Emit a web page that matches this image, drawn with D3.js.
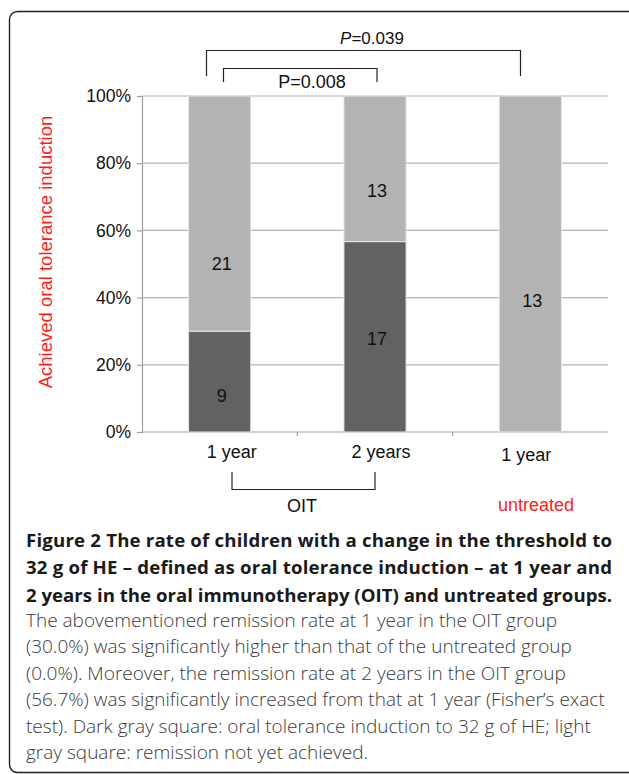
<!DOCTYPE html>
<html>
<head>
<meta charset="utf-8">
<script src="https://cdn.jsdelivr.net/npm/d3@7"></script>
<style>
  html, body { margin: 0; padding: 0; background: #fff; }
  svg { display: block; }
</style>
</head>
<body>
<svg id="fig" width="629" height="774"></svg>
<script>
// Groups on the x axis
const categories = ["oit1", "oit2", "untr1"];
const tickLabels = ["1 year", "2 years", "1 year"];
// Children counts per group
const achieved = [9, 17, 0];      // oral tolerance induction to 32 g of HE
const notYet = [21, 13, 13];      // remission not yet achieved
const yTicks = [0, 0.2, 0.4, 0.6, 0.8, 1.0];

const captionBold = [
  "Figure 2 The rate of children with a change in the threshold to",
  "32 g of HE \u2013 defined as oral tolerance induction \u2013 at 1 year and",
  "2 years in the oral immunotherapy (OIT) and untreated groups."
];
const captionBody = [
  "The abovementioned remission rate at 1 year in the OIT group",
  "(30.0%) was significantly higher than that of the untreated group",
  "(0.0%). Moreover, the remission rate at 2 years in the OIT group",
  "(56.7%) was significantly increased from that at 1 year (Fisher\u2019s exact",
  "test). Dark gray square: oral tolerance induction to 32 g of HE; light",
  "gray square: remission not yet achieved."
];

const svg = d3.select("#fig");
const FONT = "'Liberation Sans', Arial, Helvetica, sans-serif";
const CAPFONT = "'Open Sans', 'Noto Sans', sans-serif";

// Rounded frame around the figure
svg.append("rect")
  .attr("x", 9.5).attr("y", 11.5)
  .attr("width", 630).attr("height", 761)
  .attr("rx", 8).attr("ry", 8)
  .attr("fill", "none").attr("stroke", "#222").attr("stroke-width", 1.4);

const plot = { left: 142, right: 608, top: 96, bottom: 432 };

const x = d3.scaleBand()
  .domain(categories)
  .range([plot.left, plot.right])
  .paddingInner(0.6)
  .paddingOuter(0.3);

const y = d3.scaleLinear().domain([0, 1]).range([plot.bottom, plot.top]);

// Gridlines
svg.append("g")
  .selectAll("line")
  .data(yTicks.filter(d => d > 0))
  .join("line")
  .attr("x1", plot.left).attr("x2", plot.right)
  .attr("y1", d => y(d)).attr("y2", d => y(d))
  .attr("stroke", "#b4b4b4").attr("stroke-width", 1.2);

// Y axis
const yAxis = svg.append("g")
  .attr("transform", `translate(${plot.left},0)`)
  .call(d3.axisLeft(y).tickValues(yTicks).tickFormat(d3.format(".0%")).tickSize(5).tickPadding(6));
yAxis.select(".domain").attr("stroke", "#a0a0a0").attr("stroke-width", 1.2);
yAxis.selectAll(".tick line").attr("stroke", "#a0a0a0").attr("stroke-width", 1.2);
yAxis.selectAll(".tick text")
  .attr("font-family", FONT).attr("font-size", 17.5).attr("fill", "#111");

// X axis: boundary ticks between groups
const step = x.step();
const xBase = svg.append("g");
xBase.append("line")
  .attr("x1", plot.left).attr("x2", plot.right)
  .attr("y1", plot.bottom).attr("y2", plot.bottom)
  .attr("stroke", "#a0a0a0").attr("stroke-width", 1.2);
xBase.selectAll("line.sep")
  .data(categories.slice(1))
  .join("line").attr("class", "sep")
  .attr("x1", d => x(d) - step * 0.3).attr("x2", d => x(d) - step * 0.3)
  .attr("y1", plot.bottom).attr("y2", plot.bottom + 4)
  .attr("stroke", "#a0a0a0").attr("stroke-width", 1.2);

// Stacked bars (share of each group)
const rows = categories.map((c, i) => {
  const total = achieved[i] + notYet[i];
  return { cat: c, a: achieved[i], n: notYet[i], pa: achieved[i] / total, total };
});

const bars = svg.append("g");
rows.forEach(r => {
  if (r.a > 0) {
    bars.append("rect")
      .attr("x", x(r.cat)).attr("width", x.bandwidth())
      .attr("y", y(r.pa)).attr("height", y(0) - y(r.pa))
      .attr("fill", "#626262").attr("stroke", "#e6e6e6").attr("stroke-width", 1);
  }
  bars.append("rect")
    .attr("x", x(r.cat)).attr("width", x.bandwidth())
    .attr("y", y(1)).attr("height", y(r.pa) - y(1))
    .attr("fill", "#b3b3b3").attr("stroke", "#e6e6e6").attr("stroke-width", 1);
});

// Count labels inside segments
const labelShift = { oit1: [14, 50], oit2: [2, 22], untr1: [0, 36] };
const labels = svg.append("g")
  .attr("font-family", FONT).attr("font-size", 18).attr("fill", "#111")
  .attr("text-anchor", "middle");
rows.forEach(r => {
  const cx = x(r.cat) + x.bandwidth() / 2 + 2;
  const sh = labelShift[r.cat];
  if (r.a > 0) {
    labels.append("text")
      .attr("x", cx).attr("y", y(r.pa / 2) + sh[0] + 6.5)
      .text(r.a);
  }
  labels.append("text")
    .attr("x", cx).attr("y", y((r.pa + 1) / 2) + sh[1] + 6.5)
    .text(r.n);
});

// Category labels
const catShift = [[12, 0], [6, 0], [-4, 3]];
svg.append("g")
  .attr("font-family", FONT).attr("font-size", 18).attr("fill", "#111")
  .attr("text-anchor", "middle")
  .selectAll("text")
  .data(categories)
  .join("text")
  .attr("x", (d, i) => x(d) + x.bandwidth() / 2 + catShift[i][0])
  .attr("y", (d, i) => 458 + catShift[i][1])
  .text((d, i) => tickLabels[i]);

// OIT bracket under the first two groups
const br = svg.append("g").attr("stroke", "#222").attr("stroke-width", 1.2).attr("fill", "none");
br.append("path").attr("d", "M232,472 V489.5 H375 V472");
svg.append("text")
  .attr("x", 302).attr("y", 512)
  .attr("font-family", FONT).attr("font-size", 18).attr("fill", "#111")
  .attr("text-anchor", "middle").text("OIT");
svg.append("text")
  .attr("x", 536).attr("y", 511)
  .attr("font-family", FONT).attr("font-size", 18).attr("fill", "#ff1a1a")
  .attr("text-anchor", "middle").text("untreated");

// Significance brackets above the bars
br.append("path").attr("d", "M206.5,76 V50.5 H520.5 V76");
br.append("path").attr("d", "M223.5,82 V68.5 H377 V82");
const p1 = svg.append("text")
  .attr("x", 372).attr("y", 43.5)
  .attr("font-family", FONT).attr("font-size", 17).attr("fill", "#111")
  .attr("text-anchor", "middle");
p1.append("tspan").attr("font-style", "italic").text("P");
p1.append("tspan").text("=0.039");
svg.append("text")
  .attr("x", 312).attr("y", 87.5)
  .attr("font-family", FONT).attr("font-size", 18).attr("fill", "#111")
  .attr("text-anchor", "middle").text("P=0.008");

// Y axis title
svg.append("text")
  .attr("transform", "translate(52,252) rotate(-90)")
  .attr("font-family", FONT).attr("font-size", 18.5).attr("fill", "#ff1a1a")
  .attr("text-anchor", "middle")
  .text("Achieved oral tolerance induction");

// Caption: font sizes are fitted so each block fits its column
function textWidth(text, weight, size) {
  const probe = svg.append("text")
    .attr("font-family", CAPFONT).attr("font-size", size).attr("font-weight", weight)
    .text(text);
  const w = probe.node().getComputedTextLength();
  probe.remove();
  return w;
}
const COLW = 586;
const boldSize = 19 * COLW / d3.max(captionBold, l => textWidth(l, 700, 19));
const bodySize = 19 * 531 / textWidth(captionBody[0], 300, 19);

const cap = svg.append("g").attr("font-family", CAPFONT);
// Title lines are justified to the column width
captionBold.forEach((line, i) => {
  cap.append("text")
    .attr("x", 26).attr("y", 547 + i * 27.3)
    .attr("font-size", boldSize).attr("fill", "#1a1a1a").attr("font-weight", 700)
    .attr("textLength", COLW).attr("lengthAdjust", "spacing")
    .text(line);
});
captionBody.forEach((line, i) => {
  cap.append("text")
    .attr("x", 26).attr("y", 627 + i * 26.4)
    .attr("font-size", bodySize).attr("fill", "#3a3a3a").attr("font-weight", 300)
    .text(line);
});
</script>
</body>
</html>
